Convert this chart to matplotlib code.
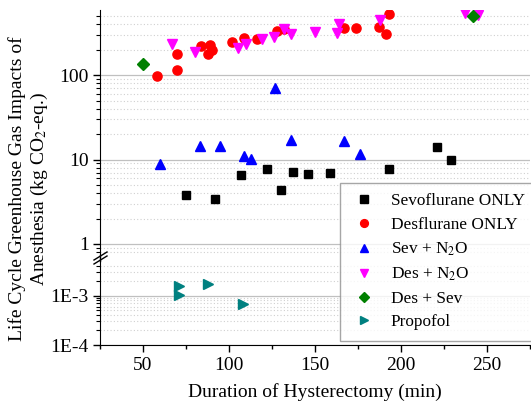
import numpy as np
import matplotlib.pyplot as plt
from matplotlib.ticker import FixedLocator, NullFormatter, MultipleLocator
from matplotlib.lines import Line2D

plt.rcParams['font.family'] = ['Liberation Serif', 'DejaVu Serif']
plt.rcParams['mathtext.fontset'] = 'stix'

# data (duration in min, impact in kg CO2-eq.)
sevo_x = [75, 92, 107, 122, 130, 137, 146, 159, 193, 221, 229]
sevo_y = [3.8, 3.4, 6.6, 7.8, 4.4, 7.1, 6.7, 6.9, 7.8, 14.1, 9.8]

des_x = [58, 70, 70, 84, 89, 90, 88, 102, 109, 116, 128, 132, 167, 174, 187, 191, 193]
des_y = [98, 115, 176, 222, 225, 196, 176, 244, 277, 267, 334, 347, 360, 360, 373, 308, 523]

sevn2o_x = [60, 83, 95, 109, 113, 127, 136, 167, 176]
sevn2o_y = [8.9, 14.6, 14.4, 11.1, 10.2, 70, 17.2, 16.6, 11.5]

desn2o_x = [67, 80, 105, 110, 119, 126, 132, 136, 150, 163, 164, 188, 237, 245]
desn2o_y = [231, 189, 210, 231, 265, 284, 347, 303, 320, 317, 398, 448, 537, 512]

dessev_x = [50, 242]
dessev_y = [135, 500]

prop_x = [71, 71, 88, 108]
prop_y = [1.55e-3, 1.05e-3, 1.75e-3, 6.8e-4]

series = [
    ('Sevoflurane ONLY', sevo_x, sevo_y, 's', 'black', 6),
    ('Desflurane ONLY', des_x, des_y, 'o', 'red', 6.6),
    ('Sev + N$_2$O', sevn2o_x, sevn2o_y, '^', 'blue', 7.5),
    ('Des + N$_2$O', desn2o_x, desn2o_y, 'v', 'magenta', 7.5),
    ('Des + Sev', dessev_x, dessev_y, 'D', 'green', 6),
    ('Propofol', prop_x, prop_y, '>', 'teal', 7.5),
]

W, H = 531, 403
fig = plt.figure(figsize=(W / 100, H / 100), dpi=100)

def fx(px):
    return px / W

def fy(py):
    return 1 - py / H

left, right = 100, 530
ax_top = fig.add_axes([fx(left), fy(254.5), fx(right - left), (254.5 - 10) / H])
ax_bot = fig.add_axes([fx(left), fy(345), fx(right - left), (345 - 261) / H])

fs = 14
for ax in (ax_top, ax_bot):
    ax.set_yscale('log')
    ax.set_xlim(25, 275)
    for s in ('top', 'right'):
        ax.spines[s].set_visible(False)
    ax.tick_params(axis='y', which='major', direction='out', length=5, width=1, labelsize=fs, pad=3)
    ax.tick_params(axis='y', which='minor', direction='out', length=3, width=0.8)
    ax.grid(True, which='major', axis='y', color='#c0c0c0', lw=0.9, ls='-')
    ax.grid(True, which='minor', axis='y', color='#d0d0d0', lw=0.8, ls=(0, (1, 2)))
    ax.set_axisbelow(True)

ax_top.spines['bottom'].set_visible(False)
ax_top.tick_params(axis='x', which='both', bottom=False, labelbottom=False)
ax_top.set_ylim(0.75, 590)
ax_top.yaxis.set_major_locator(FixedLocator([1, 10, 100]))
ax_top.set_yticklabels(['1', '10', '100'])
ax_top.yaxis.set_minor_locator(FixedLocator(
    [0.8, 0.9] + [m * d for d in (1, 10) for m in range(2, 10)] + [200, 300, 400, 500]))
ax_top.yaxis.set_minor_formatter(NullFormatter())

ax_bot.set_ylim(1e-4, 5e-3)
ax_bot.yaxis.set_major_locator(FixedLocator([1e-4, 1e-3]))
ax_bot.set_yticklabels(['1E-4', '1E-3'])
ax_bot.yaxis.set_minor_locator(FixedLocator(
    [m * 1e-4 for m in range(2, 10)] + [2e-3, 3e-3, 4e-3]))
ax_bot.yaxis.set_minor_formatter(NullFormatter())
ax_bot.xaxis.set_major_locator(FixedLocator([50, 100, 150, 200, 250]))
ax_bot.xaxis.set_minor_locator(MultipleLocator(25))
ax_bot.tick_params(axis='x', which='major', direction='out', length=5, width=1, labelsize=fs, pad=4)
ax_bot.tick_params(axis='x', which='minor', direction='out', length=3, width=1)
ax_bot.set_xlabel('Duration of Hysterectomy (min)', fontsize=fs, labelpad=6)

handles = []
for label, x, y, m, c, ms in series:
    ax = ax_bot if label == 'Propofol' else ax_top
    ax.plot(x, y, ls='none', marker=m, color=c, ms=ms, mec=c)
    handles.append(Line2D([], [], ls='none', marker=m, color=c, ms=ms * 0.85, mec=c, label=label))

# connect the left spine across the break and draw the break mark
fig.add_artist(Line2D([fx(left), fx(left)], [fy(254.5), fy(261)], color='black', lw=1))
for dy in (0, 4):
    fig.add_artist(Line2D([fx(94), fx(107)], [fy(264 - dy), fy(256 - dy)], color='black', lw=1))

fig.text(fx(29), fy(189), 'Life Cycle Greenhouse Gas Impacts of\nAnesthesia (kg CO$_2$-eq.)',
         rotation=90, ha='center', va='center', multialignment='center', fontsize=fs)

leg = fig.legend(handles=handles, loc='upper left', bbox_to_anchor=(fx(340), fy(183)),
                 frameon=True, fancybox=False, edgecolor='#909090', fontsize=12.4,
                 borderaxespad=0, handletextpad=0.75, labelspacing=0.44, borderpad=0.6,
                 handlelength=1.6)
leg.get_frame().set_linewidth(1)

fig.savefig('out.png', dpi=100)
